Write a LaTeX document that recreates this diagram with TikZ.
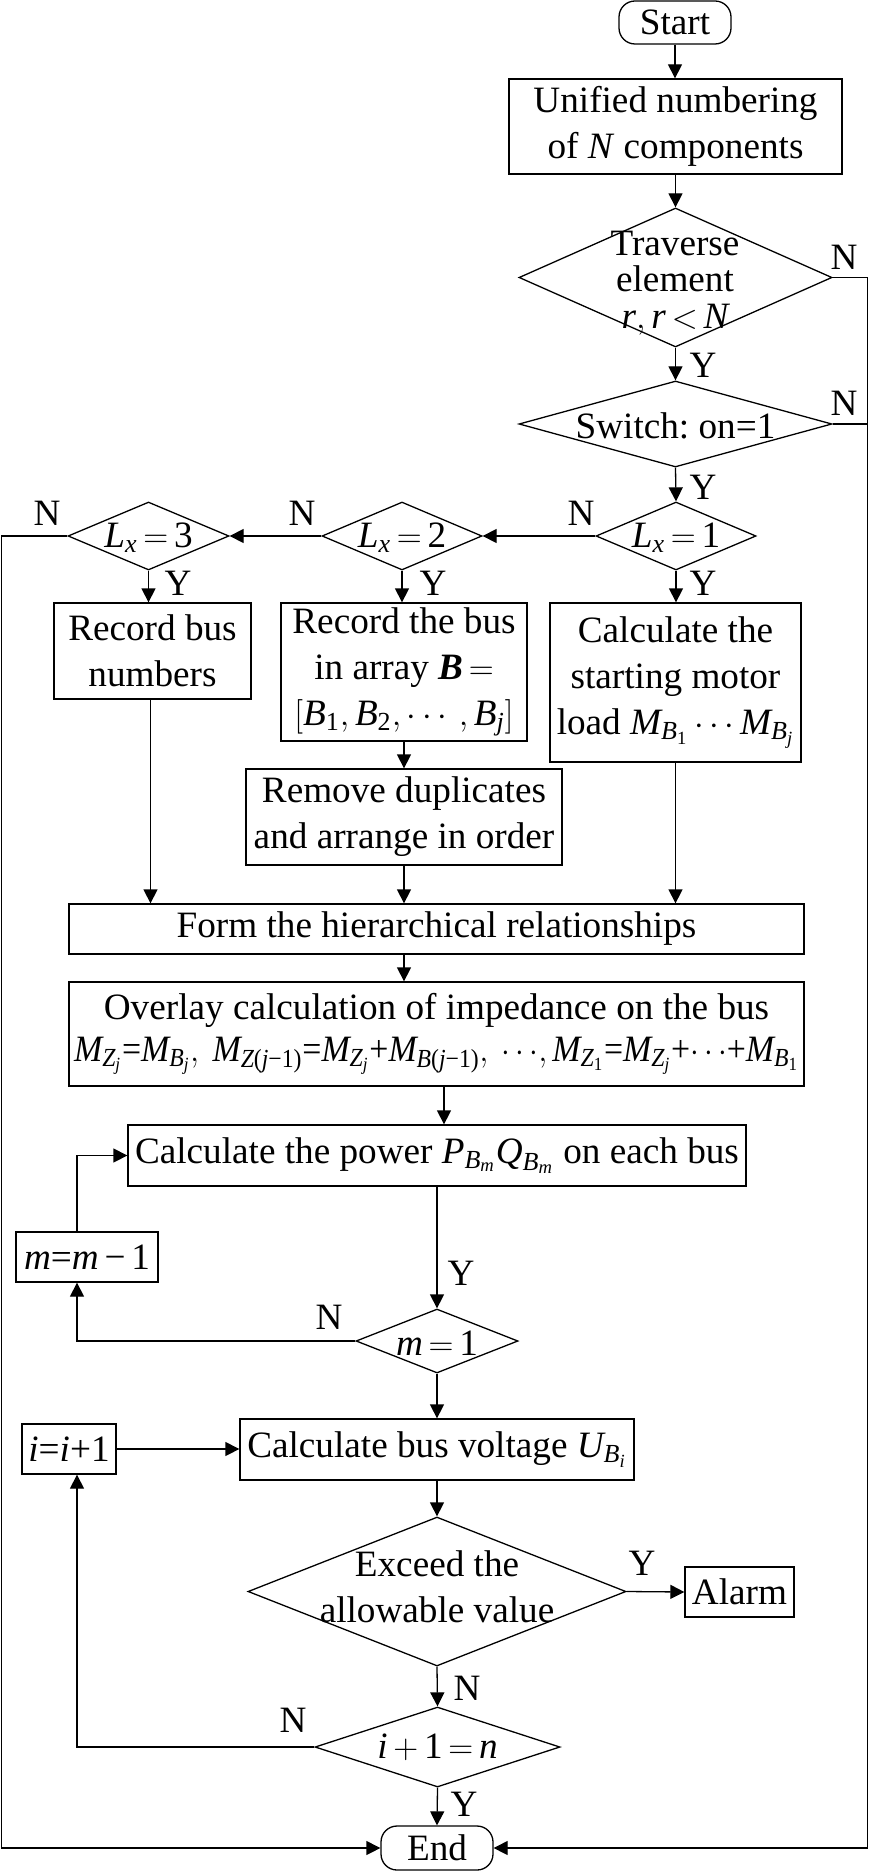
\documentclass[tikz,border=0pt]{standalone}
\usepackage{fontspec}
\setmainfont{Liberation Serif}
\usepackage{amsmath}
\usepackage{graphicx}
\usetikzlibrary{arrows.meta,shapes.geometric}
\newcommand\vi[1]{\textit{#1}}
\newcommand\tx[1]{\text{#1}}
\frenchspacing
\begin{document}
\begin{tikzpicture}[x=0.5pt,y=-0.5pt, line width=0.65pt,
 every node/.style={font=\fontsize{18.6}{23}\selectfont},
 box/.style={draw, rectangle, inner sep=0pt, align=center},
 term/.style={box, rounded corners=8pt},
 dia/.style={draw, diamond, inner sep=0pt},
 txt/.style={inner sep=0pt, align=center},
 lab/.style={inner sep=0pt},
 arr/.style={-{Triangle[length=7pt,width=7pt]}}]
\useasboundingbox (0,0) rectangle (870,1871);
\coordinate (rbus) at (867.5,0);
\coordinate (lbus) at (1.5,0);
% nodes
\node[term, minimum width=56pt, minimum height=21.5pt] (start) at (675,22.5) {Start};
\node[box, minimum width=166.5pt, minimum height=47.5pt] (unif) at (675.5,126.5) {Unified numbering\\of \vi{N} components};
\node[dia, minimum width=156.5pt, minimum height=69.5pt] (trav) at (675.5,277.5) {};
\node[txt, font=\fontsize{18.6}{18.3}\selectfont] (travt) at (675,283) {Traverse\\element\\$\vi{r}, \vi{r}\,{<}\,\vi{N}$};
\node[dia, minimum width=156.5pt, minimum height=43pt] (sw) at (675.5,424) {};
\node[txt] (swt) at (675.5,426) {Switch: on=1};
\node[dia, minimum width=80pt, minimum height=34pt] (l1) at (676,536) {};
\node[txt] (l1t) at (676,538) {$\vi{L}_{\vi{x}}\,{=}\,\tx{1}$};
\node[dia, minimum width=80pt, minimum height=34pt] (l2) at (402,536) {};
\node[txt] (l2t) at (402,538) {$\vi{L}_{\vi{x}}\,{=}\,\tx{2}$};
\node[dia, minimum width=80.5pt, minimum height=34pt] (l3) at (148.5,536) {};
\node[txt] (l3t) at (148.5,538) {$\vi{L}_{\vi{x}}\,{=}\,\tx{3}$};
\node[box, minimum width=98.5pt, minimum height=48pt] (recb) at (152.5,651) {Record bus\\numbers};
\node[box, minimum width=123pt, minimum height=69pt] (reca) at (404,672) {Record the bus\\in array $\textbf{\textit{B}}\,{=}$\\$[\vi{B}_{\tx{1}}, \vi{B}_{\tx{2}}, \cdots, \vi{B}_{\vi{j}}]$};
\node[box, minimum width=125.5pt, minimum height=79.5pt] (calm) at (675.5,682.5) {Calculate the\\starting motor\\load $\vi{M}_{\vi{B}_{\tx{1}}}\cdots\vi{M}_{\vi{B}_{\vi{j}}}$};
\node[box, minimum width=158pt, minimum height=48pt] (rem) at (404,817) {Remove duplicates\\and arrange in order};
\node[box, minimum width=367.5pt, minimum height=25pt] (form) at (436.5,929) {Form the hierarchical relationships};
\node[box, minimum width=367.5pt, minimum height=52pt, font=\fontsize{18.6}{21}\selectfont] (over) at (436.5,1034) {Overlay calculation of impedance on the bus\\\scalebox{0.91}[1]{$\vi{M}_{\vi{Z}_{\vi{j}}}\tx{=}\vi{M}_{\vi{B}_{\vi{j}}},\ \vi{M}_{\vi{Z}\tx{(}\vi{j}\tx{−1)}}\tx{=}\vi{M}_{\vi{Z}_{\vi{j}}}\tx{+}\vi{M}_{\vi{B}\tx{(}\vi{j}\tx{−1)}},\ \mathord{\cdots},\vi{M}_{\vi{Z}_{\tx{1}}}\tx{=}\vi{M}_{\vi{Z}_{\vi{j}}}\tx{+}\mathord{\cdots}\tx{+}\vi{M}_{\vi{B}_{\tx{1}}}$}};
\node[box, minimum width=309pt, minimum height=30.5pt] (pow) at (437,1155.5) {Calculate the power $\vi{P}_{\vi{B}_{\vi{m}}}\vi{Q}_{\vi{B}_{\vi{m}}}$ on each bus};
\node[dia, minimum width=81pt, minimum height=32pt] (m1) at (437,1341) {};
\node[txt] (m1t) at (437,1343) {$\vi{m}\,{=}\,\tx{1}$};
\node[box, minimum width=71pt, minimum height=25pt] (mm) at (87,1257) {$\vi{m}\tx{=}\vi{m}\,\tx{−}\,\tx{1}$};
\node[box, minimum width=197pt, minimum height=30.5pt] (volt) at (437,1449.5) {Calculate bus voltage $\vi{U}_{\vi{B}_{\vi{i}}}$};
\node[box, minimum width=47pt, minimum height=25pt] (iinc) at (69,1449) {$\vi{i}\tx{=}\vi{i}\tx{+1}$};
\node[dia, minimum width=189pt, minimum height=74.5pt] (exc) at (437,1591.5) {};
\node[txt] (exct) at (437,1587) {Exceed the\\allowable value};
\node[box, minimum width=54.5pt, minimum height=25pt] (alarm) at (739.5,1592) {Alarm};
\node[dia, minimum width=122.5pt, minimum height=40pt] (inn) at (437.5,1747) {};
\node[txt] (innt) at (437.5,1747) {$\vi{i}\,{+}\,\tx{1}\,{=}\,\vi{n}$};
\node[term, minimum width=56pt, minimum height=22pt] (end) at (437,1848) {End};
% labels
\node[lab] (n1) at (844,257) {N};
\node[lab] (y1) at (703,365) {Y};
\node[lab] (n2) at (844,403) {N};
\node[lab] (y2) at (703,487) {Y};
\node[lab] (n3) at (581,513) {N};
\node[lab] (n4) at (302,513) {N};
\node[lab] (n5) at (47,513) {N};
\node[lab] (y3) at (703,583) {Y};
\node[lab] (y4) at (433,583) {Y};
\node[lab] (y5) at (178,583) {Y};
\node[lab] (y6) at (461,1273) {Y};
\node[lab] (n6) at (329,1317) {N};
\node[lab] (y7) at (642,1563) {Y};
\node[lab] (n7) at (467,1688) {N};
\node[lab] (n8) at (293,1720) {N};
\node[lab] (y8) at (464,1804) {Y};
% connectors
\draw[arr] (start.south) -- (start.south |- unif.north);
\draw[arr] (unif.south) -- (trav.north);
\draw[arr] (trav.south) -- (sw.north);
\draw[arr] (trav.east) -- (trav.east -| rbus) -- (end.east -| rbus) -- (end.east);
\draw (sw.east) -- (sw.east -| rbus);
\draw[arr] (sw.south) -- (l1.north);
\draw[arr] (l1.west) -- (l2.east);
\draw[arr] (l2.west) -- (l3.east);
\draw[arr] (l3.west) -- (l3.west -| lbus) -- (end.west -| lbus) -- (end.west);
\draw[arr] (l1.south) -- (l1.south |- calm.north);
\draw[arr] (l2.south) -- (l2.south |- reca.north);
\draw[arr] (l3.south) -- (l3.south |- recb.north);
\draw[arr] (reca.south) -- (reca.south |- rem.north);
\draw[arr] ([xshift=-1pt]recb.south) -- ([xshift=-1pt]recb.south |- form.north);
\draw[arr] (rem.south) -- (rem.south |- form.north);
\draw[arr] (calm.south) -- (calm.south |- form.north);
\draw[arr] (form.south -| rem.south) -- (over.north -| rem.south);
\draw[arr] ([xshift=3.75pt]over.south) -- ([xshift=3.75pt]over.south |- pow.north);
\draw[arr] (pow.south -| m1.north) -- (m1.north);
\draw[arr] (m1.west) -| ([xshift=-5pt]mm.south);
\draw[arr] ([xshift=-5pt]mm.north) |- (pow.west);
\draw[arr] (m1.south) -- (volt.north);
\draw[arr] (iinc.east) -- (iinc.east -| volt.west);
\draw[arr] (volt.south) -- (exc.north);
\draw[arr] (exc.east) -- (alarm.west);
\draw[arr] (exc.south) -- (inn.north);
\draw[arr] (inn.west) -| ([xshift=4pt]iinc.south);
\draw[arr] (inn.south) -- (end.north);
\end{tikzpicture}
\end{document}
